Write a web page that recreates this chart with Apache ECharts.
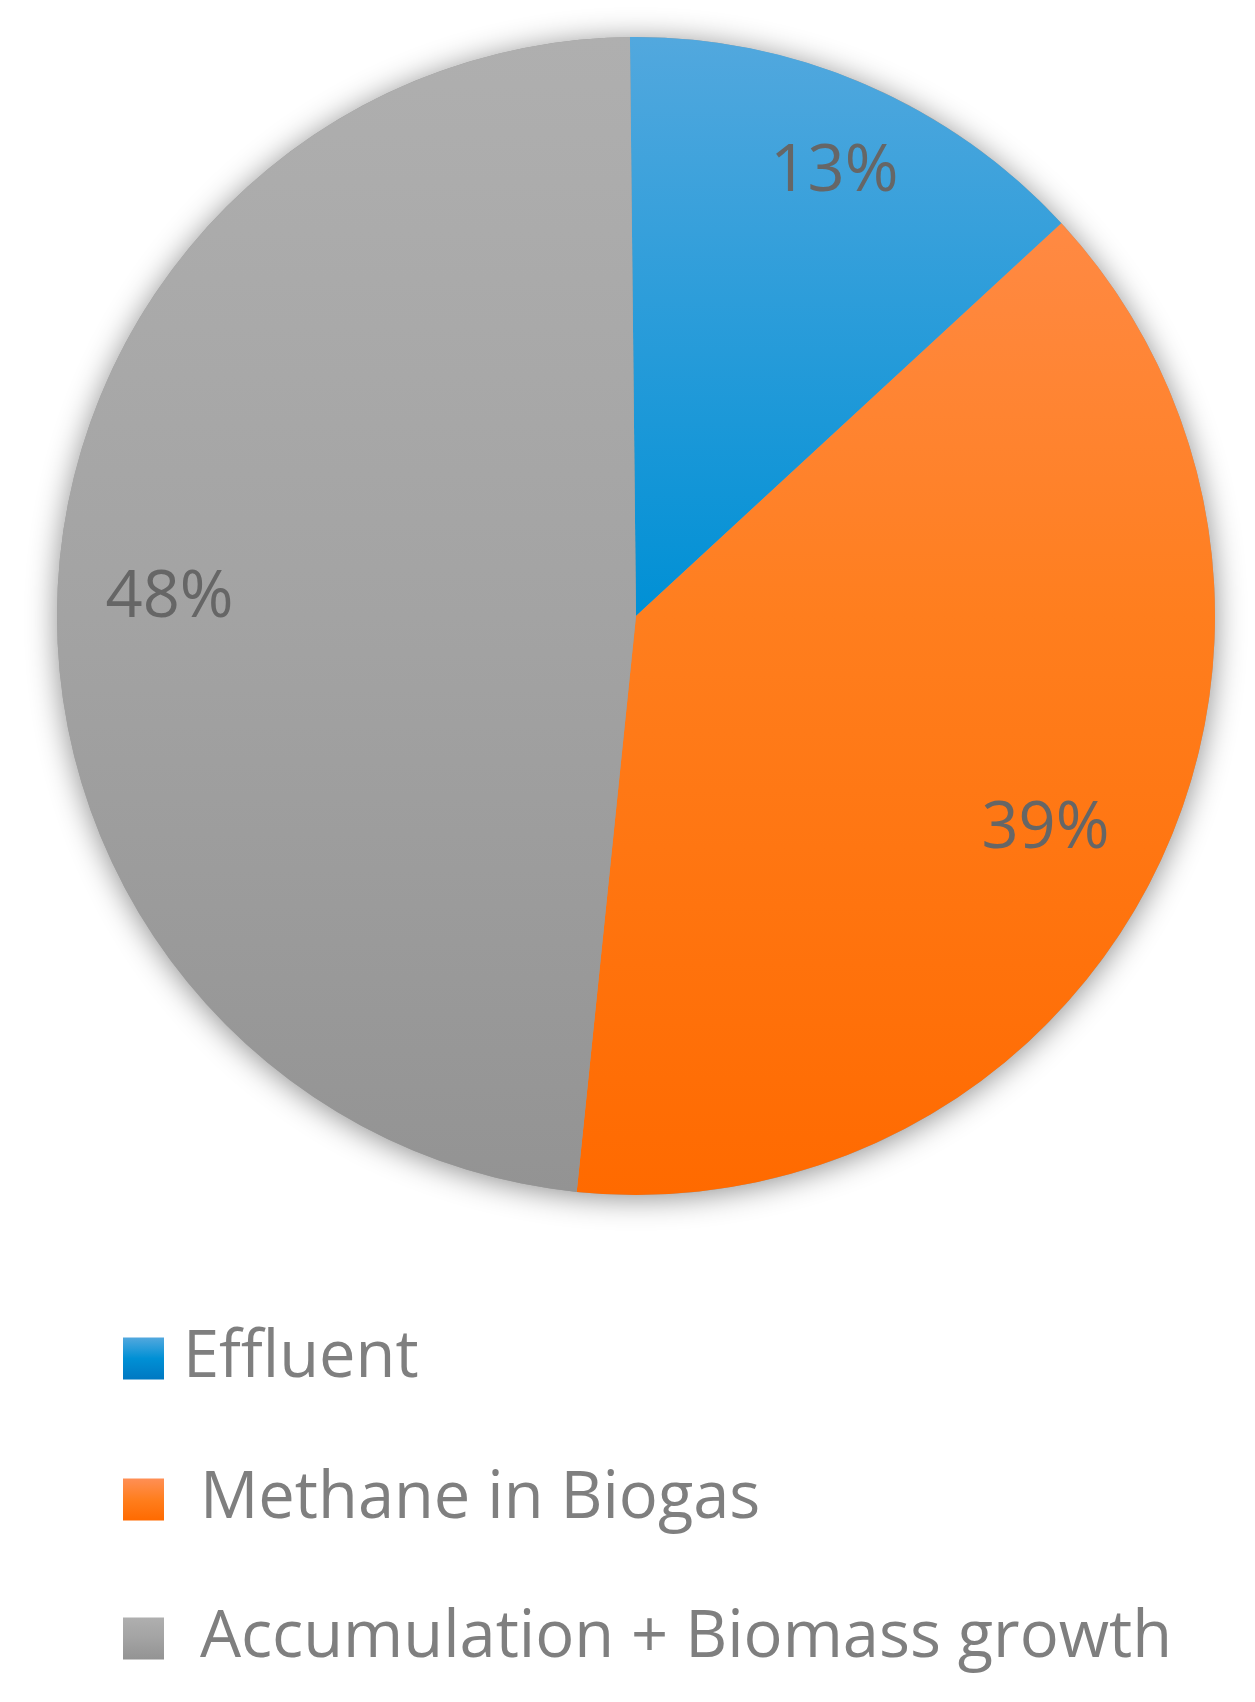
<!DOCTYPE html>
<html>
<head>
<meta charset="utf-8">
<script src="https://cdn.jsdelivr.net/npm/echarts@6/dist/echarts.min.js"></script>
<style>
html,body{margin:0;padding:0;background:#fff;}
#c{width:1255px;height:1702px;}
</style>
</head>
<body>
<div id="c"></div>
<script>
var categories = ['Effluent', 'Methane in Biogas', 'Accumulation + Biomass growth'];
var legendLabels = ['Effluent', ' Methane in Biogas', ' Accumulation + Biomass growth'];
var values = [13.3, 38.5, 48.2];

var topColors = ['#52A8DE', '#FF8F55', '#AFAFAF'];
var midColors = ['#0090D5', '#FF7E1E', '#A3A3A3'];
var bottomColors = ['#0078C2', '#FF6A00', '#939393'];

var CX = 636, CY = 616, R = 579;
var FONT = '"Open Sans", "Noto Sans", sans-serif';
var legendTops = [1321, 1462, 1601];
var labelOffsets = [[9, -5], [-18, 0], [11, 5]];

function globalGrad(i) {
  return {
    type: 'linear', global: true,
    x: 0, y: CY - R, x2: 0, y2: CY + R,
    colorStops: [
      {offset: 0, color: topColors[i]},
      {offset: 0.5, color: midColors[i]},
      {offset: 1, color: bottomColors[i]}
    ]
  };
}
function localGrad(i) {
  return {
    type: 'linear', x: 0, y: 0, x2: 0, y2: 1,
    colorStops: [
      {offset: 0, color: topColors[i]},
      {offset: 0.5, color: midColors[i]},
      {offset: 1, color: bottomColors[i]}
    ]
  };
}

var mainData = categories.map(function (n, i) {
  return {name: n, value: values[i], itemStyle: {color: globalGrad(i)}};
});
var labelData = categories.map(function (n, i) {
  return {name: n, value: values[i], label: {offset: labelOffsets[i]}};
});

var legends = categories.map(function (n, i) {
  return {
    orient: 'vertical',
    left: 118,
    top: legendTops[i],
    itemWidth: 41,
    itemHeight: 42,
    icon: 'rect',
    selectedMode: false,
    data: [{name: n, itemStyle: {color: localGrad(i)}}],
    formatter: function (name) {
      return legendLabels[categories.indexOf(name)];
    },
    textStyle: {
      fontFamily: FONT,
      fontSize: 65,
      color: '#7F7F7F',
      padding: [0, 0, 0, 14]
    }
  };
});

var chart = echarts.init(document.getElementById('c'), null, {renderer: 'canvas'});
chart.setOption({
  animation: false,
  backgroundColor: '#ffffff',
  legend: legends,
  series: [
    {
      name: 'shadow',
      type: 'pie',
      center: [CX, CY],
      radius: [0, R],
      silent: true,
      label: {show: false},
      labelLine: {show: false},
      emphasis: {disabled: true},
      data: [{name: '_bg', value: 1, itemStyle: {
        color: '#9a9a9a', shadowBlur: 30, shadowColor: 'rgba(0,0,0,0.45)', shadowOffsetY: 3
      }}]
    },
    {
      name: 'main',
      type: 'pie',
      center: [CX, CY],
      radius: [0, R],
      startAngle: 90.6,
      clockwise: true,
      silent: true,
      label: {show: false},
      labelLine: {show: false},
      itemStyle: {borderWidth: 0},
      emphasis: {disabled: true},
      data: mainData
    },
    {
      name: 'labels',
      type: 'pie',
      center: [CX, CY],
      radius: [420, 530],
      startAngle: 90.6,
      clockwise: true,
      silent: true,
      itemStyle: {color: 'rgba(0,0,0,0)', borderWidth: 0},
      labelLine: {show: false},
      emphasis: {disabled: true},
      label: {
        show: true,
        position: 'inside',
        fontFamily: FONT,
        fontSize: 65,
        color: '#666666',
        formatter: function (p) { return Math.round(p.percent) + '%'; }
      },
      data: labelData
    }
  ]
});
</script>
</body>
</html>
